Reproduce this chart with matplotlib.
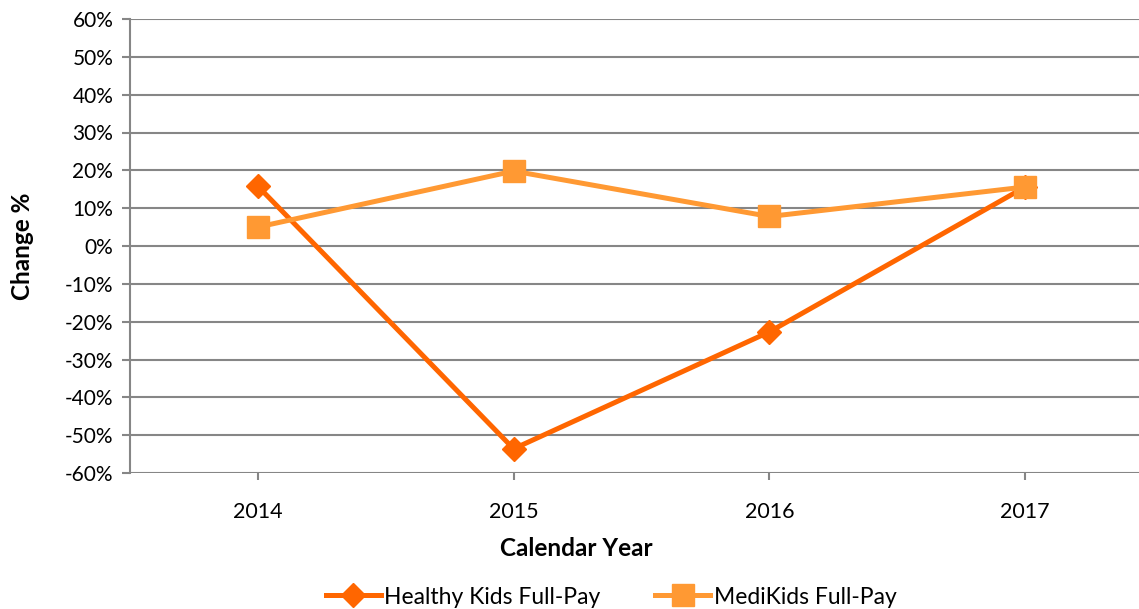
import matplotlib
matplotlib.use("Agg")
from matplotlib import pyplot as plt
from matplotlib.ticker import PercentFormatter

years = ["2014", "2015", "2016", "2017"]
healthy_kids = [15.8, -53.6, -22.7, 15.6]
medikids = [5.0, 19.8, 7.8, 15.6]

plt.rcParams['font.family'] = ['Lato', 'DejaVu Sans']
plt.rcParams['axes.unicode_minus'] = False

fig = plt.figure(figsize=(11.39, 6.09), dpi=100)
W, H = 1139, 609
ax = fig.add_axes([130 / W, 1 - 473 / H, (1153 - 130) / W, (473 - 19) / H])

x = range(len(years))
ax.plot(x, healthy_kids, color="#FF6600", linewidth=3.6, marker="D",
        markersize=12, label="Healthy Kids Full-Pay", zorder=3)
ax.plot(x, medikids, color="#FF9933", linewidth=3.6, marker="s",
        markersize=16, label="MediKids Full-Pay", zorder=3)

ax.set_xlim(-0.5, 3.5)
ax.set_ylim(-60, 60)
ax.set_yticks(range(-60, 61, 10))
ax.yaxis.set_major_formatter(PercentFormatter(decimals=0))
ax.set_xticks(list(x))
ax.set_xticklabels(years)
ax.grid(axis="y", color="#868686", linewidth=1.5)
ax.set_axisbelow(True)

for s in ["top", "right", "bottom"]:
    ax.spines[s].set_visible(False)
ax.spines["left"].set_color("#868686")
ax.spines["left"].set_linewidth(1.5)
ax.tick_params(axis="y", length=6, color="#868686", width=1.5, labelsize=15, pad=6)
ax.tick_params(axis="x", length=5, color="#868686", width=1.5, labelsize=15.5, pad=16,
               direction="out")

fig.text(576 / W, 1 - 549 / H, "Calendar Year", fontsize=17.5, fontweight="bold",
         ha="center", va="center")
ax.set_ylabel("Change %", fontsize=17.5, fontweight="bold", labelpad=22)

fig.legend(loc="center", bbox_to_anchor=(611 / W, 1 - 597 / H), ncol=2, frameon=False,
           fontsize=16.5, handlelength=2.4, columnspacing=2.4, handletextpad=0.15)

fig.savefig("out.png", dpi=100)
